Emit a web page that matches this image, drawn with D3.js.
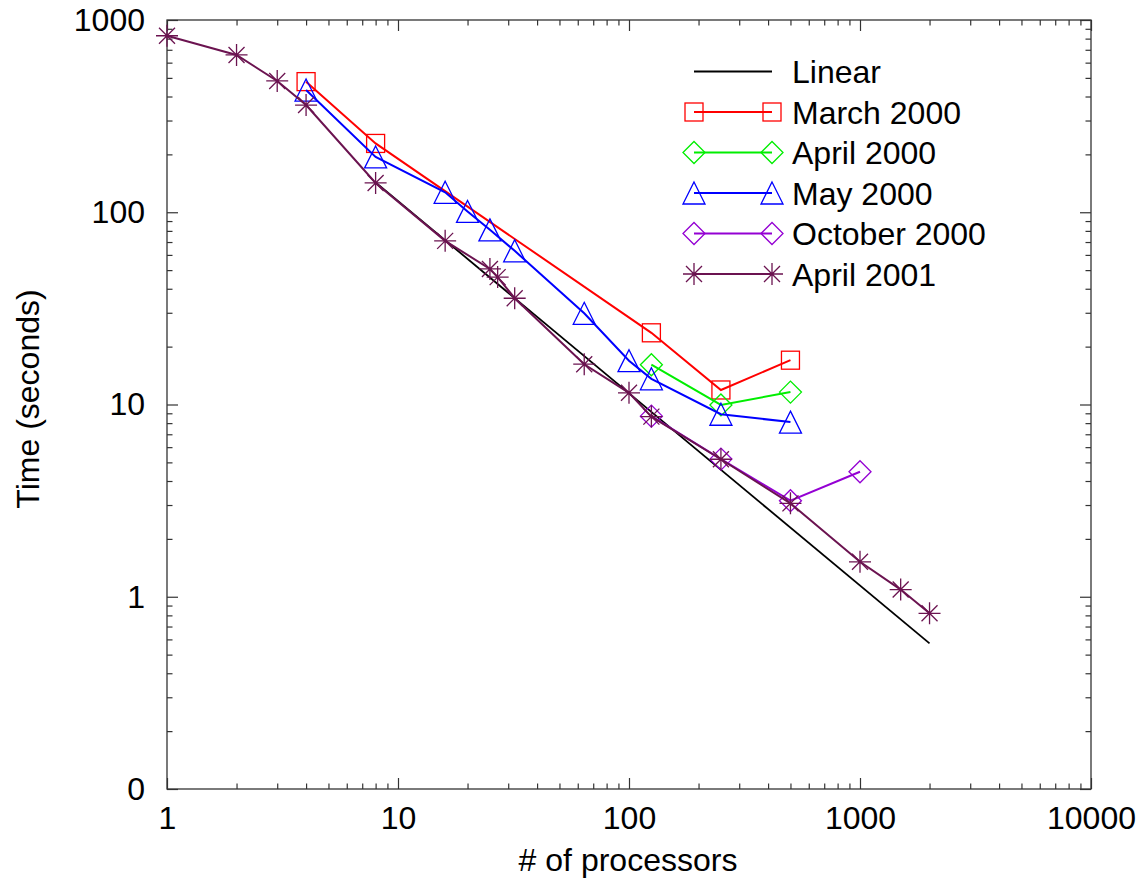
<!DOCTYPE html>
<html>
<head>
<meta charset="utf-8">
<script src="https://cdn.jsdelivr.net/npm/d3@7"></script>
<style>
  html, body { margin: 0; padding: 0; background: #fff; }
  svg { display: block; font-family: "Liberation Sans", Arial, sans-serif; }
</style>
</head>
<body>
<svg id="chart" width="1144" height="883"></svg>
<script>
// ---- data ----
const xTickValues = [1, 10, 100, 1000, 10000];
const xTickLabels = ["1", "10", "100", "1000", "10000"];
const yTickValues = [0.1, 1, 10, 100, 1000];
const yTickLabels = ["0", "1", "10", "100", "1000"];

const linearProcs = [8, 2000];
const linearTimes = [143, 0.572];

const march2000Procs = [4, 8, 125, 250, 500];
const march2000Times = [478, 228, 23.6, 11.9, 17.0];

const april2000Procs = [125, 250, 500];
const april2000Times = [16.1, 9.95, 11.6];

const may2000Procs = [4, 8, 16, 20, 25, 32, 64, 100, 125, 250, 500];
const may2000Times = [432, 194, 127, 101, 81, 63, 29.8, 16.9, 13.6, 8.9, 8.1];

const october2000Procs = [125, 250, 500, 1000];
const october2000Times = [8.7, 5.2, 3.16, 4.47];

const april2001Procs = [1, 2, 3, 4, 8, 16, 25, 27, 32, 64, 100, 125, 250, 500, 1000, 1500, 2000];
const april2001Times = [828, 658, 482, 361, 142, 71, 50.7, 46, 35.7, 16.2, 11.5, 8.65, 5.19, 3.06, 1.52, 1.09, 0.82];

const seriesNames = ["Linear", "March 2000", "April 2000", "May 2000", "October 2000", "April 2001"];
const seriesColors = ["#000000", "#ff0000", "#00ee00", "#0000ff", "#9400d3", "#6b1350"];
const seriesMarkers = ["none", "square", "diamond", "triangle", "diamond", "star"];
const seriesProcs = [linearProcs, march2000Procs, april2000Procs, may2000Procs, october2000Procs, april2001Procs];
const seriesTimes = [linearTimes, march2000Times, april2000Times, may2000Times, october2000Times, april2001Times];

// ---- layout ----
const svg = d3.select("#chart");
const L = 167, R = 1091, T = 20, B = 789;
const x = d3.scaleLog().domain([1, 10000]).range([L, R]);
const y = d3.scaleLog().domain([0.1, 1000]).range([B, T]);
const axisColor = "#333";
const fontSize = 32;

const xMinor = x.ticks().filter(v => !xTickValues.includes(v));
const yMinor = y.ticks().filter(v => !yTickValues.some(t => Math.abs(t - v) < 1e-9));

function styleAxis(g) {
  g.select(".domain").remove();
  g.selectAll(".tick line").attr("stroke", axisColor).attr("stroke-width", 1.2);
  g.selectAll(".tick text").attr("fill", "#000").style("font-size", fontSize + "px")
    .style("font-family", '"Liberation Sans", Arial, sans-serif');
}

// bottom
svg.append("g").attr("transform", `translate(0,${B})`)
  .call(d3.axisBottom(x).tickValues(xTickValues).tickSizeInner(-11).tickSizeOuter(0).tickPadding(17)
    .tickFormat((d, i) => xTickLabels[i]))
  .call(styleAxis);
svg.append("g").attr("transform", `translate(0,${B})`)
  .call(d3.axisBottom(x).tickValues(xMinor).tickSizeInner(-5.5).tickSizeOuter(0).tickFormat(""))
  .call(styleAxis);
// top
svg.append("g").attr("transform", `translate(0,${T})`)
  .call(d3.axisTop(x).tickValues(xTickValues).tickSizeInner(-11).tickSizeOuter(0).tickFormat(""))
  .call(styleAxis);
svg.append("g").attr("transform", `translate(0,${T})`)
  .call(d3.axisTop(x).tickValues(xMinor).tickSizeInner(-5.5).tickSizeOuter(0).tickFormat(""))
  .call(styleAxis);
// left
svg.append("g").attr("transform", `translate(${L},0)`)
  .call(d3.axisLeft(y).tickValues(yTickValues).tickSizeInner(-11).tickSizeOuter(0).tickPadding(22)
    .tickFormat((d, i) => yTickLabels[i]))
  .call(styleAxis);
svg.append("g").attr("transform", `translate(${L},0)`)
  .call(d3.axisLeft(y).tickValues(yMinor).tickSizeInner(-5.5).tickSizeOuter(0).tickFormat(""))
  .call(styleAxis);
// right
svg.append("g").attr("transform", `translate(${R},0)`)
  .call(d3.axisRight(y).tickValues(yTickValues).tickSizeInner(-11).tickSizeOuter(0).tickFormat(""))
  .call(styleAxis);
svg.append("g").attr("transform", `translate(${R},0)`)
  .call(d3.axisRight(y).tickValues(yMinor).tickSizeInner(-5.5).tickSizeOuter(0).tickFormat(""))
  .call(styleAxis);

// frame
svg.append("rect").attr("x", L).attr("y", T).attr("width", R - L).attr("height", B - T)
  .attr("fill", "none").attr("stroke", axisColor).attr("stroke-width", 1.3);

// axis titles
svg.append("text").attr("x", 628).attr("y", 871).attr("text-anchor", "middle")
  .style("font-size", fontSize + "px").text("# of processors");
svg.append("text").attr("transform", "translate(39,399) rotate(-90)").attr("text-anchor", "middle")
  .style("font-size", fontSize + "px").text("Time (seconds)");

// markers
function drawMarker(g, type, cx, cy, color) {
  const sw = 1.3;
  if (type === "square") {
    g.append("rect").attr("x", cx - 9).attr("y", cy - 9).attr("width", 18).attr("height", 18)
      .attr("fill", "none").attr("stroke", color).attr("stroke-width", sw);
  } else if (type === "diamond") {
    g.append("path").attr("d", `M${cx - 11},${cy}L${cx},${cy - 11}L${cx + 11},${cy}L${cx},${cy + 11}Z`)
      .attr("fill", "none").attr("stroke", color).attr("stroke-width", sw);
  } else if (type === "triangle") {
    g.append("path").attr("d", `M${cx},${cy - 11}L${cx + 11},${cy + 11}L${cx - 11},${cy + 11}Z`)
      .attr("fill", "none").attr("stroke", color).attr("stroke-width", sw);
  } else if (type === "star") {
    const a = 11, b = 8;
    g.append("path").attr("d",
      `M${cx - a},${cy}L${cx + a},${cy}M${cx},${cy - a}L${cx},${cy + a}` +
      `M${cx - b},${cy - b}L${cx + b},${cy + b}M${cx - b},${cy + b}L${cx + b},${cy - b}`)
      .attr("fill", "none").attr("stroke", color).attr("stroke-width", sw);
  }
}

const plot = svg.append("g");
const line = d3.line().x(d => x(d[0])).y(d => y(d[1]));

seriesNames.forEach((name, i) => {
  const pts = seriesProcs[i].map((p, j) => [p, seriesTimes[i][j]]);
  const g = plot.append("g");
  g.append("path").datum(pts).attr("d", line).attr("fill", "none")
    .attr("stroke", seriesColors[i]).attr("stroke-width", i === 0 ? 1.8 : 2);
  if (seriesMarkers[i] !== "none") {
    pts.forEach(d => drawMarker(g, seriesMarkers[i], x(d[0]), y(d[1]), seriesColors[i]));
  }
});

// legend
const legend = svg.append("g");
const lx0 = 694, lx1 = 772, ltx = 792, ly0 = 71.5, ldy = 40.5;
seriesNames.forEach((name, i) => {
  const yy = ly0 + i * ldy;
  legend.append("line").attr("x1", lx0).attr("x2", lx1).attr("y1", yy).attr("y2", yy)
    .attr("stroke", seriesColors[i]).attr("stroke-width", i === 0 ? 1.8 : 2);
  if (seriesMarkers[i] !== "none") {
    drawMarker(legend, seriesMarkers[i], lx0, yy, seriesColors[i]);
    drawMarker(legend, seriesMarkers[i], lx1, yy, seriesColors[i]);
  }
  legend.append("text").attr("x", ltx).attr("y", yy + 11.5).style("font-size", fontSize + "px").text(name);
});
</script>
</body>
</html>
